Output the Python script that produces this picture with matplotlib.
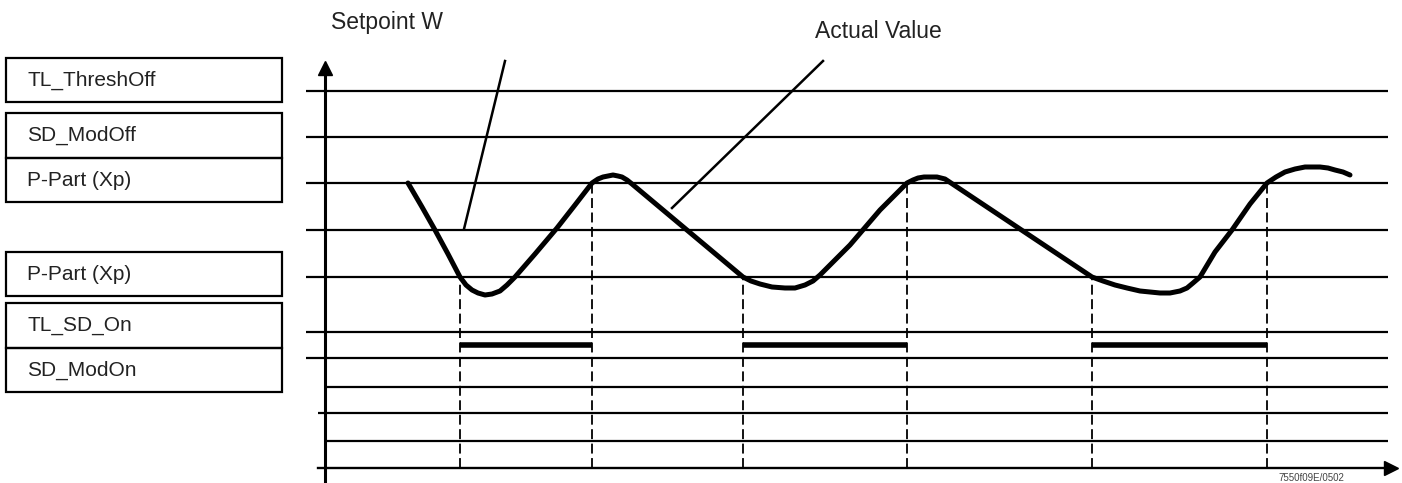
import matplotlib.pyplot as plt
from matplotlib.patches import Rectangle

plt.rcParams['font.family'] = ['Liberation Sans', 'DejaVu Sans']

# diagram units: origin where the axes cross, y grows upwards
levels = [377, 331, 285, 238, 191, 136, 110, 81, 55, 27]
level_start = [-19, -19, -19, -19, -19, -19, -19, 0, -7, 0]
level_end = 1063

# actual value curve
curve_x = [83, 97, 110, 123, 135, 141, 147, 153, 160, 167, 175, 182, 190, 210, 232, 250,
           267, 273, 278, 283, 288, 293, 297, 302, 307, 418, 426, 435, 447, 460, 470,
           480, 488, 495, 525, 555, 582, 588, 593, 599, 605, 612, 620, 767, 778, 790,
           802, 815, 825, 835, 845, 855, 862, 868, 875, 890, 907, 925, 942, 951, 960,
           970, 980, 988, 995, 1003, 1010, 1018, 1025]
curve_y = [285, 261, 238, 214, 191, 183, 178, 175, 173, 174, 177, 183, 191, 214, 240, 263,
           285, 289, 291, 292, 293, 292, 291, 288, 284, 191, 187, 184, 181, 180, 180,
           183, 187, 193, 223, 258, 285, 288, 290, 291, 291, 291, 289, 191, 187, 183,
           180, 177, 176, 175, 175, 177, 180, 185, 191, 216, 238, 264, 285, 291, 296,
           299, 301, 301, 301, 300, 298, 296, 293]

# switching points (dashed verticals) and the level where they hit the curve
switch_x = [135, 267, 418, 582, 767, 942]
switch_y = [191, 285, 191, 285, 191, 285]

# output "on" bars
bar_start = [135, 418, 767]
bar_end = [267, 582, 942]
bar_level = 123

# left-hand parameter boxes: (label, top, bottom)
box_labels = ['TL_ThreshOff', 'SD_ModOff', 'P-Part (Xp)', 'P-Part (Xp)', 'TL_SD_On', 'SD_ModOn']
box_top = [410, 355, 310, 216, 165, 120]
box_bottom = [366, 310, 266, 172, 120, 76]
box_left, box_right = -319, -43

# pointer lines for the annotations
setpoint_line = ([180, 139], [407, 239])
actual_line = ([498, 347], [407, 260])

fig = plt.figure(figsize=(14.02, 4.83), dpi=100)
ax = fig.add_axes([0, 0, 1, 1])
ax.set_xlim(-325, 1077)
ax.set_ylim(-15, 468)
ax.axis('off')

# level lines
for lv, x0 in zip(levels, level_start):
    ax.plot([x0, level_end], [lv, lv], color='black', lw=1.6, solid_capstyle='butt')

# axes with arrows
ax.plot([-7, 1066], [0, 0], color='black', lw=1.7)
ax.plot([0, 0], [-15, 398], color='black', lw=2.2)
ax.plot([0], [400], marker='^', ms=10, color='black')
ax.plot([1066], [0], marker='>', ms=10, color='black')

# dashed verticals
for x, y in zip(switch_x, switch_y):
    ax.plot([x, x], [0, y], color='black', lw=1.3, ls=(0, (5.5, 2.5)))

# on bars
for x0, x1 in zip(bar_start, bar_end):
    ax.plot([x0, x1], [bar_level, bar_level], color='black', lw=4, solid_capstyle='butt')

# actual value curve
ax.plot(curve_x, curve_y, color='black', lw=3.6, solid_joinstyle='round', solid_capstyle='round')

# pointers
ax.plot(*setpoint_line, color='black', lw=1.8)
ax.plot(*actual_line, color='black', lw=1.8)
ax.text(6, 445, 'Setpoint W', fontsize=16.5, color='#222222', va='center', ha='left')
ax.text(490, 437, 'Actual Value', fontsize=16.5, color='#222222', va='center', ha='left')

# parameter boxes
for lab, top, bot in zip(box_labels, box_top, box_bottom):
    ax.add_patch(Rectangle((box_left, bot), box_right - box_left, top - bot,
                           fill=False, edgecolor='black', lw=1.6))
    ax.text(-298, (top + bot) / 2, lab, fontsize=15, color='#222222', va='center', ha='left')

ax.text(953, -10, '7550f09E/0502', fontsize=7, color='#444444', va='center', ha='left')

fig.savefig('out.png', dpi=100)
